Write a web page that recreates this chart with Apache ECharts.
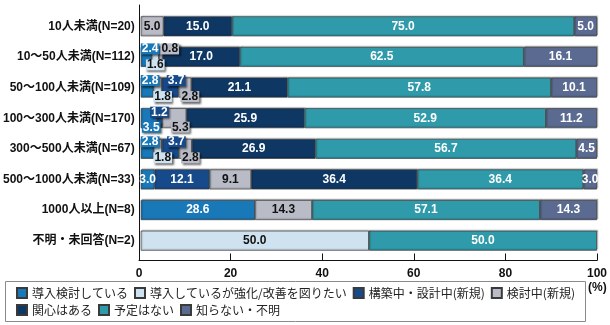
<!DOCTYPE html>
<html>
<head>
<meta charset="utf-8">
<script src="https://cdn.jsdelivr.net/npm/echarts@6/dist/echarts.min.js"></script>
<style>
html,body{margin:0;padding:0;background:#fff;}
#chart{width:610px;height:325px;}
</style>
</head>
<body>
<div id="chart"></div>
<script>
// ---- data ----
const categories = ['10人未満(N=20)', '10〜50人未満(N=112)', '50〜100人未満(N=109)', '100〜300人未満(N=170)',
  '300〜500人未満(N=67)', '500〜1000人未満(N=33)', '1000人以上(N=8)', '不明・未回答(N=2)'];
const seriesNames = ['導入検討している', '導入しているが強化/改善を図りたい', '構築中・設計中(新規)', '検討中(新規)',
  '関心はある', '予定はない', '知らない・不明'];
const introConsidering = [0, 2.4, 2.8, 3.5, 2.8, 3.0, 28.6, 0];
const introStrengthen  = [0, 1.6, 1.8, 0, 1.8, 0, 0, 50.0];
const buildingNew      = [0, 0, 3.7, 1.2, 3.7, 12.1, 0, 0];
const consideringNew   = [5.0, 0.8, 2.8, 5.3, 2.8, 9.1, 14.3, 0];
const interested       = [15.0, 17.0, 21.1, 25.9, 26.9, 36.4, 0, 0];
const noPlan           = [75.0, 62.5, 57.8, 52.9, 56.7, 36.4, 57.1, 50.0];
const unknownVals      = [5.0, 16.1, 10.1, 11.2, 4.5, 3.0, 14.3, 0];
const xTicks = [0, 20, 40, 60, 80, 100];

// ---- styles ----
const colors = ['#1878b8', '#cfe2ef', '#174a8b', '#b9bcc7', '#0f3764', '#2e9aaa', '#5a6a90'];
const labelColors = ['#fff', '#111', '#fff', '#111', '#fff', '#fff', '#fff'];
// callout label offsets keyed "row-series"
const callouts = {
  '1-0': [4, -8], '1-1': [0, 8], '1-3': [9, -8],
  '2-0': [3, -7], '2-1': [5, 9], '2-2': [6, -7], '2-3': [5, 9],
  '3-0': [2.5, 9], '3-2': [0, -6], '3-3': [6, 9],
  '4-0': [3, -7], '4-1': [5, 9], '4-2': [6, -7], '4-3': [5, 9]
};
const FONT = "'Liberation Sans', 'Noto Sans CJK JP', sans-serif";

const allVals = [introConsidering, introStrengthen, buildingNew, consideringNew, interested, noPlan, unknownVals];
const rowTotals = categories.map((c, i) => allVals.reduce((s, a) => s + a[i], 0));

const series = allVals.map((arr, si) => ({
  name: seriesNames[si],
  type: 'bar',
  stack: 'total',
  xAxisIndex: 0,
  yAxisIndex: 0,
  barWidth: 20,
  itemStyle: {
    color: colors[si], borderColor: '#3a3a3a', borderWidth: 0.7,
    shadowColor: 'rgba(0,0,0,0.25)', shadowBlur: 1, shadowOffsetX: 1, shadowOffsetY: -1
  },
  label: {
    show: true, position: 'inside', color: labelColors[si],
    fontFamily: FONT, fontSize: 12, fontWeight: 'bold',
    formatter: p => (p.data && p.data.raw) ? p.data.raw.toFixed(1) : ''
  },
  data: arr.map((v, ri) => {
    if (!v) return { value: '-', raw: 0 };
    const item = { value: v / rowTotals[ri] * 100, raw: v };
    const off = callouts[ri + '-' + si];
    if (off) {
      item.label = {
        offset: off, backgroundColor: colors[si], padding: [0, 1], lineHeight: 11,
        shadowColor: 'rgba(0,0,0,0.6)', shadowBlur: 2, shadowOffsetX: 1.5, shadowOffsetY: 1.5
      };
    }
    return item;
  })
}));

const legendText = { color: '#222', fontFamily: "'Noto Sans CJK JP', sans-serif", fontSize: 12, lineHeight: 14 };

const chart = echarts.init(document.getElementById('chart'), null, { renderer: 'canvas' });
chart.setOption({
  animation: false,
  backgroundColor: '#fff',
  grid: [
    { left: 139, right: 13, top: 11, height: 245, containLabel: false },
    { left: 139, right: 13, top: 5, bottom: 64.5, containLabel: false }
  ],
  xAxis: [
    { gridIndex: 0, type: 'value', min: xTicks[0], max: xTicks[xTicks.length - 1], interval: xTicks[1] - xTicks[0], show: false },
    {
      gridIndex: 1, type: 'value', min: xTicks[0], max: xTicks[xTicks.length - 1], interval: xTicks[1] - xTicks[0],
      axisLine: { show: true, lineStyle: { color: '#111', width: 1 } },
      axisTick: { show: true, inside: true, length: 7, lineStyle: { color: '#111' } },
      splitLine: { show: false },
      axisLabel: { color: '#111', fontFamily: FONT, fontSize: 12, fontWeight: 'bold', margin: 7 }
    }
  ],
  yAxis: [
    {
      gridIndex: 0, type: 'category', data: categories, inverse: true,
      axisLine: { show: false }, axisTick: { show: false },
      axisLabel: { color: '#111', fontFamily: FONT, fontSize: 12, fontWeight: 'bold', margin: 6 }
    },
    {
      gridIndex: 1, type: 'value', min: 0, max: 1,
      axisLine: { show: true, lineStyle: { color: '#111', width: 1 } },
      axisTick: { show: false }, axisLabel: { show: false }, splitLine: { show: false }
    }
  ],
  legend: [
    {
      data: seriesNames.slice(0, 4), left: 16, top: 286, padding: 0, itemGap: 6,
      itemWidth: 10, itemHeight: 10, icon: 'rect', selectedMode: false, textStyle: legendText
    },
    {
      data: seriesNames.slice(4), left: 16, top: 303, padding: 0, itemGap: 6,
      itemWidth: 10, itemHeight: 10, icon: 'rect', selectedMode: false, textStyle: legendText
    }
  ],
  graphic: [
    { type: 'rect', shape: { x: 5.5, y: 281.5, width: 580, height: 40 }, style: { fill: 'none', stroke: '#8a8a8a', lineWidth: 1 } },
    { type: 'text', left: 588, top: 282, style: { text: '(%)', fill: '#111', font: "bold 12px 'Liberation Sans', sans-serif" } }
  ],
  series: series
});
</script>
</body>
</html>
